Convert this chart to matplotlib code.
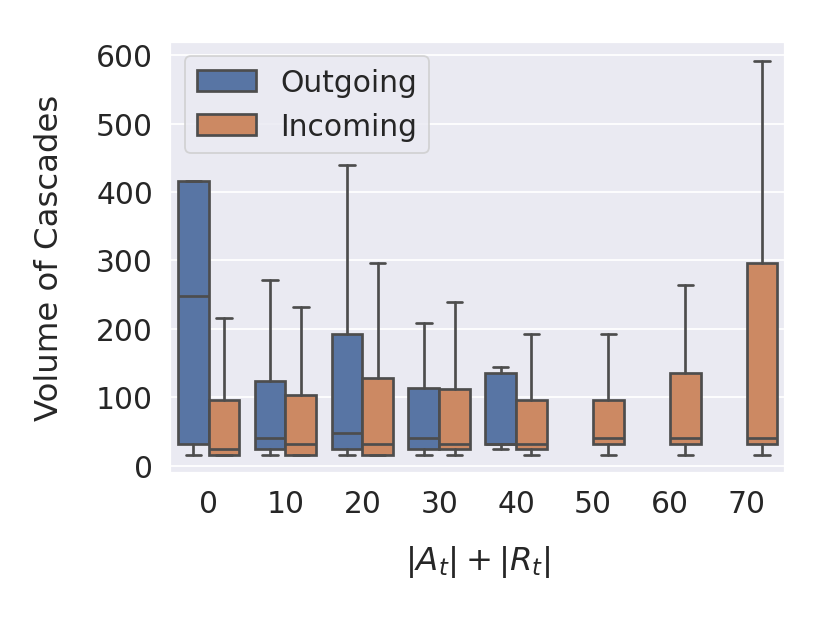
import matplotlib
matplotlib.use("Agg")
import matplotlib.pyplot as plt
import seaborn as sns
from matplotlib.patches import Patch

sns.set_theme(style="darkgrid")
plt.rcParams['font.family'] = ['DejaVu Sans']

categories = ["0", "10", "20", "30", "40", "50", "60", "70"]
hues = ["Outgoing", "Incoming"]

# box statistics: whisker low, q1, median, q3, whisker high (None = no data)
out_whislo = [16, 16, 16, 16, 24, None, None, None]
out_q1     = [32, 24, 24, 24, 32, None, None, None]
out_med    = [248, 40, 48, 40, 32, None, None, None]
out_q3     = [416, 124, 192, 114, 136, None, None, None]
out_whishi = [416, 272, 440, 208, 144, None, None, None]

in_whislo = [16, 16, 16, 16, 16, 16, 16, 16]
in_q1     = [16, 16, 16, 24, 24, 32, 32, 32]
in_med    = [24, 32, 32, 32, 32, 40, 40, 40]
in_q3     = [96, 104, 128, 112, 96, 96, 136, 296]
in_whishi = [216, 232, 296, 240, 192, 192, 264, 592]

blue = "#5875a4"
orange = "#cc8963"
gray = "#4d4d4d"

DPI = 830 / 6.4
fig = plt.figure(figsize=(6.4, 4.8), dpi=DPI)
ax = fig.add_axes([0.205, 0.24, 0.741, 0.6925])

LW = 1.5

def draw(whislo, q1, med, q3, whishi, offset, color):
    stats, pos = [], []
    for i in range(len(categories)):
        if med[i] is None:
            continue
        stats.append(dict(whislo=whislo[i], q1=q1[i], med=med[i], q3=q3[i],
                          whishi=whishi[i], fliers=[]))
        pos.append(i + offset)
    ax.bxp(stats, positions=pos, widths=0.4, capwidths=0.2, patch_artist=True,
           showfliers=False,
           boxprops=dict(facecolor=color, edgecolor=gray, linewidth=LW),
           medianprops=dict(color=gray, linewidth=LW),
           whiskerprops=dict(color=gray, linewidth=LW),
           capprops=dict(color=gray, linewidth=LW))

draw(out_whislo, out_q1, out_med, out_q3, out_whishi, -0.2, blue)
draw(in_whislo, in_q1, in_med, in_q3, in_whishi, 0.2, orange)

ax.set_xlim(-0.5, len(categories) - 0.5)
ax.set_ylim(-10, 620)
ax.set_xticks(range(len(categories)))
ax.set_xticklabels(categories, fontsize=16.5)
ax.set_yticks([0, 100, 200, 300, 400, 500, 600])
ax.tick_params(axis='y', labelsize=16.5)
ax.set_xlabel(r"$|A_t| + |R_t|$", fontsize=18, labelpad=14)
ax.set_ylabel("Volume of Cascades", fontsize=18, labelpad=17)
ax.grid(axis='x', visible=False)

handles = [Patch(facecolor=blue, edgecolor=gray, linewidth=LW),
           Patch(facecolor=orange, edgecolor=gray, linewidth=LW)]
ax.legend(handles, hues, loc="upper left", fontsize=16.5, borderaxespad=0.5)

fig.savefig("out.png", dpi=DPI)
